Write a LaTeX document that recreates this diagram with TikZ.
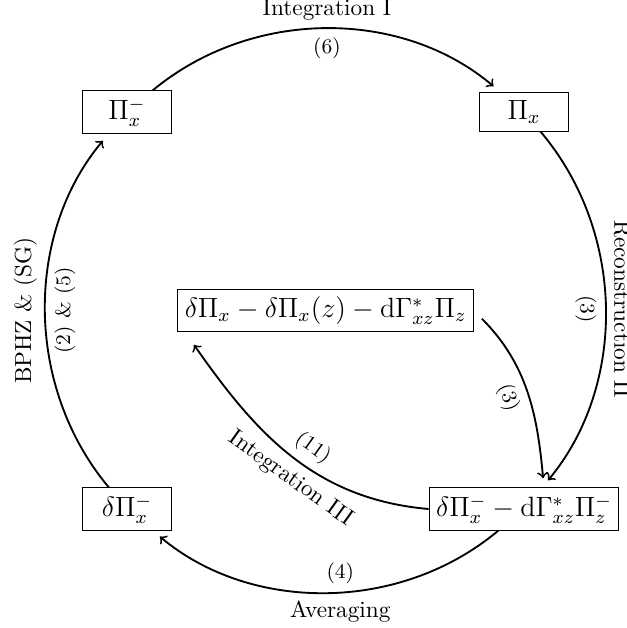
\documentclass[tikz,border=0pt]{standalone}
\usepackage{amsmath}
\usepackage{amssymb}
\usetikzlibrary{calc,arrows,positioning}

\begin{document}
\begin{tikzpicture}[
  box/.style={draw, font=\large, inner sep=3pt, minimum height=0.58cm},
  cornerbox/.style={box, minimum width=1.35cm},
  flow/.style={->, thick, shorten >=4pt},
  lab/.style={font=\small}
  ]
  \useasboundingbox (-4.919,-4.798) rectangle (4.556,4.692);
  \node[box] (mid) at (0,0) {$\delta\Pi_x - \delta\Pi_x(z) - \mathrm{d}\Gamma^*_{xz}\Pi_z$};
  \node[cornerbox] (pim) at (-3,3) {$\Pi_x^-$};
  \node[cornerbox] (pix) at (3,3) {$\Pi_x$};
  \node[cornerbox] (dpim) at (-3,-3) {$\delta\Pi_x^-$};
  \node[box] (dgam) at (3,-3) {$\delta\Pi_x^- - \mathrm{d}\Gamma^*_{xz}\Pi_z^-$};

  % outer cycle
  \draw[flow] (pim) to[bend left=40, looseness=0.95]
    node[above] {Integration I} node[below, lab] {(6)} (pix);
  \draw[flow] (pix) to[bend left=40, looseness=0.95]
    node[rotate=-90, above] {Reconstruction II} node[rotate=-90, below, lab] {(3)} (dgam);
  \draw[flow] (dgam) to[bend left=40, looseness=0.95]
    node[pos=0.46, above, lab] {(4)} node[pos=0.46, below] {Averaging} (dpim);
  \draw[flow] (dpim) to[bend left=40, looseness=0.95]
    node[rotate=90, above] {BPHZ \& (SG)} node[rotate=90, below, lab] {(2) \& (5)} (pim);

  % inner loop
  \draw[flow, shorten <=5pt] (mid.east) to[out=-45, in=95]
    node[sloped, below, lab] {(3)} ([xshift=0.3cm]dgam.north);
  \draw[flow] (dgam.west) to[out=175, in=-55]
    node[pos=0.45, sloped, above, lab] {(11)} node[pos=0.45, sloped, below] {Integration III}
    ([shift={(0.17,-0.08)}]mid.south west);
\end{tikzpicture}
\end{document}
